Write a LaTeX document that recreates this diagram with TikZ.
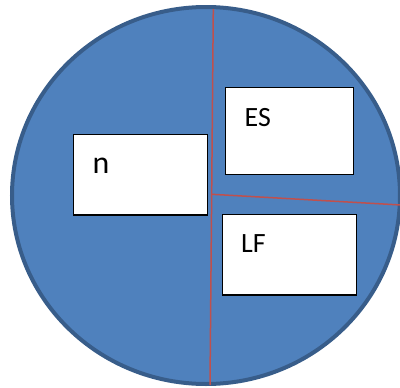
\documentclass[tikz,border=0pt]{standalone}
\usepackage{fontspec}
\setmainfont{Carlito}
\definecolor{discfill}{HTML}{4F81BD}
\definecolor{discline}{HTML}{385D8A}
\definecolor{splitred}{HTML}{C0504D}
\begin{document}
\begin{tikzpicture}[x=1bp,y=-1bp,
  labelbox/.style={draw=black,line width=1.2bp,fill=white},
  labeltext/.style={anchor=base west,inner sep=0pt,font=\fontsize{28}{30}\selectfont},
  splitline/.style={draw=splitred,line width=1.5bp}]
\useasboundingbox (0,0) rectangle (400,388);
\draw[fill=discfill,draw=discline,line width=4bp] (206,195.5) ellipse [x radius=194, y radius=188.5];
\coordinate (vtop) at (213.3,9);
\coordinate (vbot) at (210,385);
\coordinate (hleft) at (212,194.3);
\coordinate (hright) at (401,205);
\draw[splitline] (vtop) -- (vbot);
\draw[splitline] (hleft) -- (hright);
\draw[labelbox] (73.3,134.7) rectangle (207.3,215);
\draw[labelbox] (225.5,87.5) rectangle (353.5,174.5);
\draw[labelbox] (222.3,214.7) rectangle (356.3,295);
\node[labeltext,font=\fontsize{32}{34}\selectfont] (n) at (92.5,173.3) {n};
\node[labeltext] (es) at (244.5,126) {ES};
\node[labeltext] (lf) at (241,252.7) {LF};
\end{tikzpicture}
\end{document}
